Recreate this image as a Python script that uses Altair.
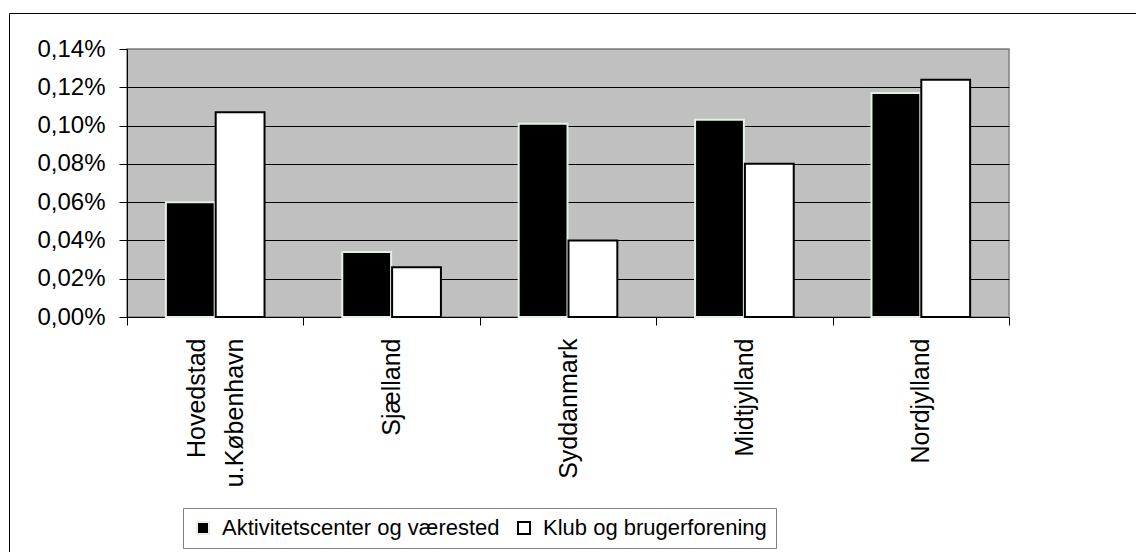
import altair as alt
import pandas as pd

regions = ["Hovedstad u.København", "Sjælland", "Syddanmark", "Midtjylland", "Nordjylland"]
series_names = ["Aktivitetscenter og værested", "Klub og brugerforening"]
aktivitet = [0.00060, 0.00034, 0.00101, 0.00103, 0.00117]
klub = [0.00107, 0.00026, 0.00040, 0.00080, 0.00124]
y_ticks = [0.0, 0.0002, 0.0004, 0.0006, 0.0008, 0.0010, 0.0012, 0.0014]

rows = []
for r, a, k in zip(regions, aktivitet, klub):
    rows.append({"region": r, "series": series_names[0], "value": a})
    rows.append({"region": r, "series": series_names[1], "value": k})
df = pd.DataFrame(rows)

bars = alt.Chart(df).mark_bar(strokeWidth=2).encode(
    x=alt.X(
        "region:N", sort=regions, title=None,
        scale=alt.Scale(paddingInner=0, paddingOuter=0),
        axis=alt.Axis(
            labelAngle=270, labelAlign="right", labelBaseline="middle",
            labelFontSize=25, labelExpr="split(datum.label, ' ')",
            labelLineHeight=38, tickBand="extent", tickSize=8, labelPadding=13,
            labelOffset=alt.condition("indexof(datum.label, ' ') >= 0", alt.value(-19), alt.value(0)),
            domainColor="black", tickColor="black", labelColor="black", grid=False,
        ),
    ),
    xOffset=alt.XOffset("series:N", sort=series_names,
                        scale=alt.Scale(paddingOuter=0.78, paddingInner=0.02)),
    y=alt.Y(
        "value:Q", title=None,
        scale=alt.Scale(domain=[0, 0.0014], nice=False, zero=True),
        axis=alt.Axis(
            values=y_ticks, format=".2%",
            labelExpr="replace(datum.label, '.', ',')",
            labelFontSize=24, tickSize=8, labelPadding=14,
            gridColor=alt.condition("datum.value >= 0.0014", alt.value("#808080"), alt.value("black")),
            gridWidth=1, domainColor="black", tickColor="black", labelColor="black",
        ),
    ),
    fill=alt.Fill("series:N", sort=series_names, title=None,
                  scale=alt.Scale(domain=series_names, range=["black", "white"])),
    stroke=alt.Stroke("series:N", sort=series_names, title=None,
                      scale=alt.Scale(domain=series_names, range=["#e4f2e4", "black"])),
)

frame = alt.Chart(pd.DataFrame({"k": [0]})).mark_rect(
    fillOpacity=0, stroke="black", strokeWidth=1
).encode(
    x=alt.value(-117.5), x2=alt.value(1100), y=alt.value(-35.5), y2=alt.value(600)
)

chart = alt.layer(frame, bars).properties(
    width=882, height=268,
    autosize=alt.AutoSizeParams(type="none"),
    padding={"left": 119, "top": 41, "right": 127, "bottom": 235},
    background="white",
).configure(
    font="Liberation Sans"
).configure_view(
    fill="#c0c0c0", stroke="#808080", strokeWidth=1.5
).configure_axis(
    labelFont="Liberation Sans"
).configure_legend(
    orient="none", legendX=56, legendY=459, direction="horizontal",
    strokeColor="#808080", padding=9, labelFontSize=22, labelFont="Liberation Sans",
    labelLimit=500, columnPadding=13, labelOffset=8, symbolType="square",
    symbolSize=144, symbolStrokeWidth=2, fillColor="white", labelColor="black",
)

chart.save("out.html", embed_options={"renderer": "svg", "actions": False})
